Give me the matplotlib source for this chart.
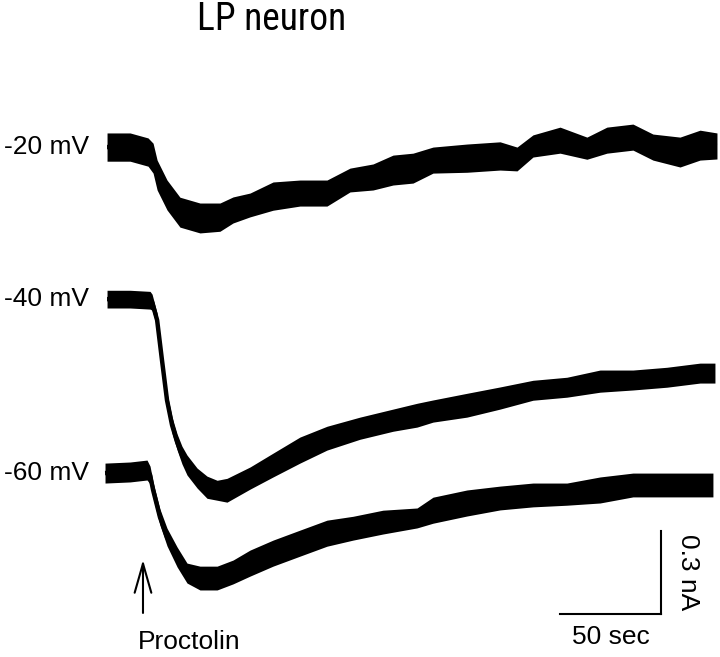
import numpy as np
import matplotlib
matplotlib.use("Agg")
import matplotlib.pyplot as plt
from matplotlib import font_manager

# ---------------- data (time in s, current in nA relative to holding baseline) -------------
t_20 = [0.0, 11.4, 20.3, 22.8, 24.8, 29.7, 36.1, 46.0, 55.9, 62.4, 70.8, 82.2, 95.5, 108.9,
        120.3, 131.7, 141.6, 151.5, 161.4, 178.2, 194.6, 203.0, 210.9, 224.3, 237.6, 247.5,
        260.4, 270.3, 283.7, 293.6, 302.0]
i_20 = [0.000, 0.000, -0.018, -0.040, -0.101, -0.173, -0.235, -0.256, -0.253, -0.227, -0.209,
        -0.177, -0.166, -0.166, -0.119, -0.108, -0.083, -0.076, -0.047, -0.040, -0.032, -0.043,
        0.004, 0.025, -0.004, 0.025, 0.036, 0.000, -0.018, 0.007, 0.004]
n_20 = [0.051, 0.051, 0.051, 0.054, 0.054, 0.054, 0.054, 0.054, 0.051, 0.047, 0.043, 0.051,
        0.047, 0.047, 0.043, 0.047, 0.054, 0.054, 0.047, 0.051, 0.051, 0.043, 0.040, 0.047,
        0.040, 0.047, 0.047, 0.047, 0.054, 0.054, 0.047]

t_40 = [0.0, 11.4, 21.3, 22.3, 24.8, 27.2, 29.7, 32.2, 34.7, 37.1, 39.6, 44.6, 49.5, 54.5,
        59.4, 70.8, 82.2, 95.5, 108.9, 125.2, 141.6, 153.5, 161.4, 178.2, 194.6, 210.9, 227.7,
        244.1, 260.4, 277.2, 293.6, 301.0]
i_40 = [0.000, 0.000, -0.004, -0.011, -0.076, -0.220, -0.365, -0.455, -0.516, -0.563, -0.599,
        -0.646, -0.679, -0.690, -0.690, -0.646, -0.599, -0.545, -0.502, -0.466, -0.437, -0.419,
        -0.404, -0.383, -0.357, -0.329, -0.318, -0.296, -0.292, -0.282, -0.267, -0.267]
n_40 = [0.032, 0.032, 0.032, 0.029, 0.025, 0.025, 0.025, 0.029, 0.029, 0.032, 0.036, 0.036,
        0.040, 0.036, 0.043, 0.040, 0.043, 0.047, 0.043, 0.040, 0.040, 0.043, 0.040, 0.043,
        0.040, 0.036, 0.036, 0.040, 0.036, 0.036, 0.036, 0.036]

t_60 = [-1.0, 11.4, 19.8, 21.3, 22.8, 26.2, 29.7, 34.7, 39.6, 46.0, 54.5, 62.4, 70.8, 82.2,
        95.5, 108.9, 121.8, 136.6, 153.5, 161.4, 178.2, 194.6, 210.9, 227.7, 244.1, 260.4,
        277.2, 300.0]
i_60 = [0.000, 0.004, 0.011, -0.007, -0.061, -0.159, -0.231, -0.303, -0.361, -0.379, -0.379,
        -0.357, -0.325, -0.289, -0.253, -0.217, -0.199, -0.177, -0.162, -0.134, -0.108, -0.090,
        -0.079, -0.076, -0.061, -0.043, -0.043, -0.043]
n_60 = [0.036, 0.036, 0.036, 0.032, 0.029, 0.029, 0.032, 0.036, 0.036, 0.043, 0.043, 0.043,
        0.047, 0.047, 0.047, 0.047, 0.043, 0.043, 0.036, 0.047, 0.047, 0.043, 0.043, 0.040,
        0.047, 0.043, 0.043, 0.043]

trace_labels = ["-20 mV", "-40 mV", "-60 mV"]
title = "LP neuron"
drug_label = "Proctolin"
drug_time = 17.8          # s, proctolin application
scale_time = 50           # s
scale_current = 0.3       # nA
scale_time_label = "50 sec"
scale_current_label = "0.3 nA"

# ---------------- layout ----------------
offsets = [0.0, -0.549, -1.177]     # vertical stacking of traces (nA)
fig = plt.figure(figsize=(7.2, 6.57), dpi=100)
ax = fig.add_axes([0, 0, 1, 1])
ax.set_xlim(-53.0, 303.5)
ax.set_ylim(-1.841, 0.531)
ax.axis("off")

base_font = ["Liberation Sans", "DejaVu Sans"]

# look for an installed condensed / narrow sans face for the title
title_font = None
title_stretch = "normal"
for pref in ["Liberation Sans Narrow", "Roboto Condensed", "Open Sans Condensed",
             "Noto Sans Condensed", "DejaVu Sans Condensed"]:
    if any(f.name == pref for f in font_manager.fontManager.ttflist):
        title_font = [pref] + base_font
        break
if title_font is None:
    for f in font_manager.fontManager.ttflist:
        st = str(f.stretch).lower()
        if (st in ("condensed", "semi-condensed", "extra-condensed") or st in ("75", "87", "62")) \
                and f.style == "normal" and str(f.weight) in ("400", "normal", "regular") \
                and f.name in ("Noto Sans", "Roboto", "Open Sans", "Liberation Sans", "Lato",
                               "Inter", "DejaVu Sans"):
            title_font = [f.name] + base_font
            title_stretch = f.stretch
            break
if title_font is None:
    title_font = base_font
    title_size = 25
else:
    title_size = 27

traces = [(t_20, i_20, n_20), (t_40, i_40, n_40), (t_60, i_60, n_60)]
for (t, i, n), off, lab in zip(traces, offsets, trace_labels):
    t = np.asarray(t); i = np.asarray(i) + off; n = np.asarray(n)
    ax.fill_between(t, i - n, i + n, color="black", lw=0)
    ax.plot(t, i, color="black", lw=3.2, solid_capstyle="butt")
    ax.text(-51, off, lab, ha="left", va="center", fontsize=19, family=base_font)

# scale bars
sb_x0 = 224.3
sb_y0 = -1.686
ax.plot([sb_x0, sb_x0 + scale_time], [sb_y0, sb_y0], color="black", lw=1.5)
ax.plot([sb_x0 + scale_time, sb_x0 + scale_time], [sb_y0, sb_y0 + scale_current], color="black", lw=1.5)
ax.text(sb_x0 + scale_time / 2, -1.769, scale_time_label, ha="center", va="center",
        fontsize=19, family=base_font)
ax.text(287.6, sb_y0 + scale_current / 2, scale_current_label, ha="center", va="center",
        rotation=270, fontsize=19, family=base_font)

# drug application arrow
ax.annotate("", xy=(drug_time, -1.490), xytext=(drug_time, -1.682),
            arrowprops=dict(arrowstyle="->,head_length=2.1,head_width=0.6", lw=1.5, color="black",
                            shrinkA=0, shrinkB=0))
ax.text(40.6, -1.787, drug_label, ha="center", va="center", fontsize=19, family=base_font)

fig.text(272 / 720, 1 - 19 / 657, title, ha="center", va="center", fontsize=title_size,
         family=title_font, fontstretch=title_stretch)

fig.savefig("out.png", dpi=100, facecolor="white")
